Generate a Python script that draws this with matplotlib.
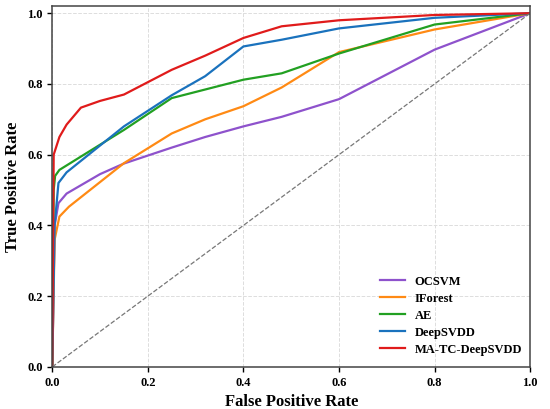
import numpy as np
import matplotlib
matplotlib.use('Agg')
import matplotlib.pyplot as plt

plt.rcParams['font.family'] = ['Liberation Serif', 'DejaVu Serif']
plt.rcParams['font.weight'] = 'bold'

# ROC 曲线数据
ocsvm_fpr = [0, 0.005, 0.013, 0.03, 0.1, 0.15, 0.25, 0.32, 0.4, 0.48, 0.6, 0.8, 1.0]
ocsvm_tpr = [0, 0.40, 0.463, 0.49, 0.545, 0.575, 0.62, 0.65, 0.68, 0.707, 0.757, 0.897, 1.0]

iforest_fpr = [0, 0.005, 0.015, 0.035, 0.15, 0.25, 0.32, 0.4, 0.48, 0.6, 0.8, 1.0]
iforest_tpr = [0, 0.36, 0.425, 0.453, 0.576, 0.66, 0.70, 0.737, 0.79, 0.89, 0.954, 1.0]

ae_fpr = [0, 0.003, 0.006, 0.015, 0.15, 0.25, 0.4, 0.48, 0.6, 0.8, 1.0]
ae_tpr = [0, 0.50, 0.54, 0.557, 0.67, 0.76, 0.812, 0.83, 0.886, 0.968, 1.0]

dsvdd_fpr = [0, 0.005, 0.013, 0.03, 0.15, 0.25, 0.32, 0.4, 0.48, 0.6, 0.8, 1.0]
dsvdd_tpr = [0, 0.40, 0.52, 0.55, 0.68, 0.768, 0.822, 0.906, 0.925, 0.957, 0.987, 1.0]

ours_fpr = [0, 0.003, 0.015, 0.03, 0.06, 0.1, 0.15, 0.25, 0.32, 0.4, 0.48, 0.6, 0.8, 1.0]
ours_tpr = [0, 0.60, 0.65, 0.685, 0.733, 0.752, 0.77, 0.84, 0.88, 0.93, 0.963, 0.98, 0.995, 1.0]

names = ['OCSVM', 'IForest', 'AE', 'DeepSVDD', 'MA-TC-DeepSVDD']
colors = ['#8e52cc', '#ff8a14', '#22a022', '#1a72bd', '#e01b1b']

fig = plt.figure(figsize=(5.5, 4.09), dpi=100)
ax = fig.add_axes([0.095, 0.103, 0.869, 0.882])

curves = [(ocsvm_fpr, ocsvm_tpr), (iforest_fpr, iforest_tpr), (ae_fpr, ae_tpr),
          (dsvdd_fpr, dsvdd_tpr), (ours_fpr, ours_tpr)]
for (fpr, tpr), name, c in zip(curves, names, colors):
    ax.plot(fpr, tpr, color=c, lw=1.6, label=name)

# 对角线
ax.plot([0, 1], [0, 1], ls='--', color='#777777', lw=0.9)

ax.set_xlim(0, 1.0)
ax.set_ylim(0, 1.02)
ax.set_xticks(np.arange(0, 1.01, 0.2))
ax.set_yticks(np.arange(0, 1.01, 0.2))
ax.grid(True, ls='--', color='#dddddd', lw=0.7)
ax.tick_params(labelsize=9, width=1, length=3.5)
for s in ax.spines.values():
    s.set_color('#444444')
    s.set_linewidth(1.1)

ax.set_xlabel('False Positive Rate', fontsize=12, fontweight='bold')
ax.set_ylabel('True Positive Rate', fontsize=12, fontweight='bold')

leg = ax.legend(loc='lower right', frameon=False, fontsize=9,
                bbox_to_anchor=(1.007, 0.0), handlelength=2.0,
                labelspacing=0.4)

fig.savefig('out.png', dpi=100)
